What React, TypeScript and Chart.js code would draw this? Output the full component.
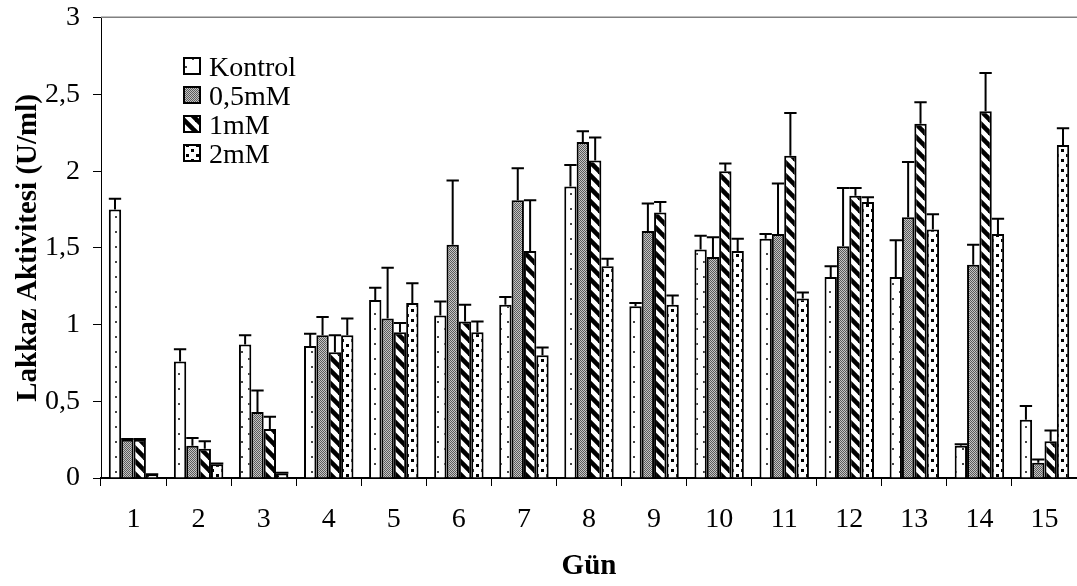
import React, { useEffect, useRef } from "react";
import { Chart, registerables } from "chart.js";

Chart.register(...registerables);

const days = ["1", "2", "3", "4", "5", "6", "7", "8", "9", "10", "11", "12", "13", "14", "15"];
const seriesNames = ["Kontrol", "0,5mM", "1mM", "2mM"];

const kontrol = [1.75, 0.76, 0.87, 0.86, 1.16, 1.06, 1.13, 1.9, 1.12, 1.49, 1.56, 1.31, 1.31, 0.21, 0.38];
const kontrolErr = [0.07, 0.08, 0.06, 0.08, 0.08, 0.09, 0.05, 0.14, 0.02, 0.09, 0.03, 0.07, 0.24, 0.01, 0.09];

const mM05 = [0.25, 0.21, 0.43, 0.93, 1.04, 1.52, 1.81, 2.19, 1.61, 1.44, 1.59, 1.51, 1.7, 1.39, 0.1];
const mM05Err = [0.005, 0.05, 0.14, 0.12, 0.33, 0.42, 0.21, 0.07, 0.18, 0.13, 0.33, 0.38, 0.36, 0.13, 0.02];

const mM1 = [0.25, 0.19, 0.32, 0.82, 0.95, 1.02, 1.48, 2.07, 1.73, 2.0, 2.1, 1.84, 2.31, 2.39, 0.24];
const mM1Err = [0.005, 0.05, 0.08, 0.11, 0.06, 0.11, 0.33, 0.15, 0.07, 0.05, 0.28, 0.05, 0.14, 0.25, 0.07];

const mM2 = [0.02, 0.09, 0.03, 0.93, 1.14, 0.95, 0.8, 1.38, 1.13, 1.48, 1.17, 1.8, 1.62, 1.59, 2.17];
const mM2Err = [0.005, 0.005, 0.005, 0.11, 0.13, 0.07, 0.05, 0.05, 0.06, 0.08, 0.04, 0.03, 0.1, 0.1, 0.11];

const yMin = 0;
const yMax = 3;
const yStep = 0.5;

const FONT = "'Liberation Serif', 'Times New Roman', serif";
const SHIFT = 12;

function tile(w: number, h: number, draw: (c: CanvasRenderingContext2D) => void): CanvasPattern {
  const cv = document.createElement("canvas");
  cv.width = w;
  cv.height = h;
  const c = cv.getContext("2d")!;
  draw(c);
  return c.createPattern(cv, "repeat")!;
}

function makePatterns(): CanvasPattern[] {
  const dots = tile(14, 15, (c) => {
    c.fillStyle = "#fff";
    c.fillRect(0, 0, 14, 15);
    c.fillStyle = "#444";
    c.fillRect(3, 3, 2, 2);
    c.fillRect(10, 10, 2, 2);
  });
  const gray = tile(2, 2, (c) => {
    c.fillStyle = "#c4c4c4";
    c.fillRect(0, 0, 2, 2);
    c.fillStyle = "#5a5a5a";
    c.fillRect(0, 0, 1, 1);
    c.fillRect(1, 1, 1, 1);
  });
  const stripes = tile(13, 13, (c) => {
    c.fillStyle = "#fff";
    c.fillRect(0, 0, 13, 13);
    c.strokeStyle = "#000";
    c.lineWidth = 4.6;
    for (let k = -1; k <= 1; k++) {
      c.beginPath();
      c.moveTo(-2, -2 + k * 13);
      c.lineTo(15, 15 + k * 13);
      c.stroke();
    }
  });
  const squares = tile(10, 10, (c) => {
    c.fillStyle = "#fff";
    c.fillRect(0, 0, 10, 10);
    c.fillStyle = "#000";
    c.fillRect(1, 1, 3, 3);
    c.fillRect(6, 6, 3, 3);
  });
  return [dots, gray, stripes, squares];
}

export default function App() {
  const ref = useRef<HTMLCanvasElement>(null);

  useEffect(() => {
    const canvas = ref.current!;
    const patterns = makePatterns();
    const values = [kontrol, mM05, mM1, mM2];
    const errors = [kontrolErr, mM05Err, mM1Err, mM2Err];

    const errorBars = {
      id: "errorBars",
      afterDatasetsDraw(chart: any) {
        const c = chart.ctx;
        const ys = chart.scales.y;
        c.save();
        c.strokeStyle = "#000";
        c.lineWidth = 2;
        values.forEach((vals, di) => {
          const meta = chart.getDatasetMeta(di);
          meta.data.forEach((el: any, i: number) => {
            const top = ys.getPixelForValue(vals[i] + errors[di][i]);
            const half = el.width / 2;
            c.beginPath();
            c.moveTo(el.x, el.y);
            c.lineTo(el.x, top);
            c.moveTo(el.x - half, top);
            c.lineTo(el.x + half, top);
            c.stroke();
          });
        });
        c.restore();
      },
    };

    const frameAndLegend = {
      id: "frameAndLegend",
      afterDraw(chart: any) {
        const c = chart.ctx;
        const a = chart.chartArea;
        c.save();
        c.strokeStyle = "#808080";
        c.lineWidth = 1.5;
        c.beginPath();
        c.moveTo(a.left, a.top - 0.5);
        c.lineTo(a.right, a.top - 0.5);
        c.stroke();

        const centers = [66, 95, 124, 153];
        c.font = `28px ${FONT}`;
        c.textBaseline = "alphabetic";
        c.textAlign = "left";
        seriesNames.forEach((name, i) => {
          const cy = centers[i] + SHIFT;
          c.fillStyle = patterns[i];
          c.fillRect(184, cy - 8, 16, 16);
          c.strokeStyle = "#000";
          c.lineWidth = 2;
          c.strokeRect(184, cy - 8, 16, 16);
          c.fillStyle = "#000";
          c.fillText(name, 209, cy + 9.5);
        });
        c.restore();
      },
    };

    const chart = new Chart(canvas, {
      type: "bar",
      data: {
        labels: days,
        datasets: seriesNames.map((n, i) => ({
          label: n,
          data: values[i],
          backgroundColor: patterns[i],
          borderColor: "#000",
          borderWidth: 2,
          borderSkipped: "bottom",
          categoryPercentage: 0.76,
          barPercentage: 1,
        })),
      },
      options: {
        animation: false,
        responsive: false,
        events: [],
        layout: { autoPadding: false, padding: { top: 4, left: 0, right: 0, bottom: 0 } },
        plugins: { legend: { display: false }, tooltip: { enabled: false } },
        scales: {
          x: {
            offset: true,
            grid: { offset: true, drawOnChartArea: false, color: "#000", tickLength: 8, tickWidth: 1 },
            border: { color: "#000", width: 2 },
            ticks: { color: "#000", font: { family: FONT, size: 28 }, padding: 17 },
            title: {
              display: true,
              text: "Gün",
              color: "#000",
              font: { family: FONT, size: 29, weight: "bold" },
              padding: { top: 0, bottom: 2 },
            },
            afterFit: (s: any) => {
              s.height = 108;
            },
          },
          y: {
            min: yMin,
            max: yMax,
            ticks: {
              stepSize: yStep,
              color: "#000",
              font: { family: FONT, size: 28 },
              padding: 13,
              callback: (v: any) => String(v).replace(".", ","),
            },
            grid: { drawOnChartArea: false, color: "#000", tickLength: 8 },
            border: { color: "#000", width: 1 },
            title: {
              display: true,
              text: "Lakkaz Aktivitesi (U/ml)",
              color: "#000",
              font: { family: FONT, size: 29, weight: "bold" },
              padding: { top: 11, bottom: 0 },
            },
            afterFit: (s: any) => {
              s.width = 101;
            },
          },
        },
      } as any,
      plugins: [errorBars, frameAndLegend],
    });
    return () => chart.destroy();
  }, []);

  return (
    <div style={{ position: "absolute", left: 0, top: 0, width: 1077, height: 586, background: "#fff", overflow: "hidden" }}>
      <canvas ref={ref} width={1077} height={586 + SHIFT} style={{ display: "block", marginTop: -SHIFT }} />
    </div>
  );
}
